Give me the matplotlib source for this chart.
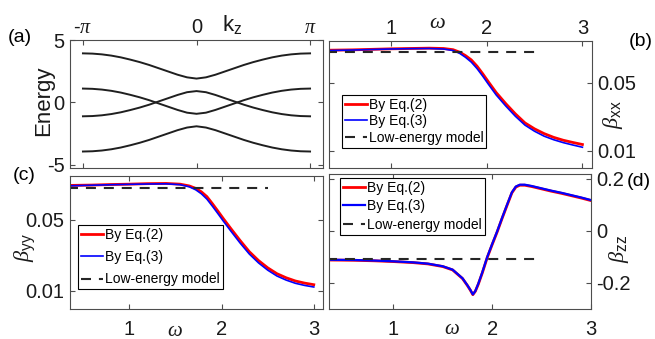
import numpy as np
import matplotlib
matplotlib.use("Agg")
import matplotlib.pyplot as plt

plt.rcParams['font.family'] = ['Liberation Sans', 'DejaVu Sans']
# Greek letters in serif italic, sub-scripts in plain sans (like the original)
plt.rcParams['mathtext.fontset'] = 'custom'
plt.rcParams['mathtext.rm'] = 'Liberation Sans'
plt.rcParams['mathtext.it'] = 'Liberation Serif:italic'
plt.rcParams['mathtext.bf'] = 'Liberation Sans:bold'
plt.rcParams['axes.unicode_minus'] = False

# ── Data ─────────────────────────────────────────────────────────────────────

# (a) band structure, k_z in units of pi
kz_over_pi = [-1.0, -0.9167, -0.8333, -0.75, -0.6667, -0.5833, -0.5, -0.4167,
              -0.3333, -0.25, -0.1667, -0.0833, 0.0, 0.0833, 0.1667, 0.25,
              0.3333, 0.4167, 0.5, 0.5833, 0.6667, 0.75, 0.8333, 0.9167, 1.0]
band_1 = [3.93, 3.91, 3.85, 3.75, 3.61, 3.43, 3.23, 3.00, 2.74, 2.48, 2.22, 2.01, 1.91,
          2.01, 2.22, 2.48, 2.74, 3.00, 3.23, 3.43, 3.61, 3.75, 3.85, 3.91, 3.93]
band_2 = [-1.11, -1.09, -1.03, -0.93, -0.79, -0.61, -0.41, -0.18, 0.08, 0.34, 0.60, 0.82, 0.91,
          0.82, 0.60, 0.34, 0.08, -0.18, -0.41, -0.61, -0.79, -0.93, -1.03, -1.09, -1.11]
band_3 = [1.11, 1.09, 1.03, 0.93, 0.79, 0.61, 0.41, 0.18, -0.08, -0.34, -0.60, -0.82, -0.91,
          -0.82, -0.60, -0.34, -0.08, 0.18, 0.41, 0.61, 0.79, 0.93, 1.03, 1.09, 1.11]
band_4 = [-3.93, -3.91, -3.85, -3.75, -3.61, -3.43, -3.23, -3.00, -2.74, -2.48, -2.22, -2.01, -1.91,
          -2.01, -2.22, -2.48, -2.74, -3.00, -3.23, -3.43, -3.61, -3.75, -3.85, -3.91, -3.93]

# (b), (c) frequency grid
omega = [0.36, 0.6, 0.8, 1.0, 1.2, 1.4, 1.55, 1.65, 1.72, 1.78, 1.84, 1.9,
         1.96, 2.02, 2.1, 2.2, 2.3, 2.4, 2.5, 2.6, 2.7, 2.8, 2.9, 3.0]

beta_xx_eq2 = [0.0692, 0.0694, 0.0697, 0.0700, 0.0702, 0.0704, 0.0702, 0.0695, 0.0680, 0.0660,
               0.0635, 0.0598, 0.0553, 0.0505, 0.0443, 0.0378, 0.0318, 0.0265, 0.0230, 0.0202,
               0.0180, 0.0163, 0.0150, 0.0138]
beta_xx_eq3 = [0.0690, 0.0693, 0.0696, 0.0699, 0.0701, 0.0702, 0.0699, 0.0690, 0.0673, 0.0650,
               0.0622, 0.0584, 0.0539, 0.0491, 0.0429, 0.0364, 0.0304, 0.0252, 0.0216, 0.0187,
               0.0166, 0.0149, 0.0135, 0.0122]

beta_yy_eq2 = [0.0693, 0.0695, 0.0698, 0.0700, 0.0703, 0.0704, 0.0700, 0.0690, 0.0676, 0.0657,
               0.0630, 0.0590, 0.0548, 0.0505, 0.0450, 0.0383, 0.0320, 0.0270, 0.0229, 0.0196,
               0.0173, 0.0155, 0.0143, 0.0134]
beta_yy_eq3 = [0.0691, 0.0694, 0.0697, 0.0699, 0.0701, 0.0702, 0.0697, 0.0685, 0.0668, 0.0646,
               0.0616, 0.0576, 0.0534, 0.0491, 0.0436, 0.0369, 0.0307, 0.0257, 0.0216, 0.0183,
               0.0160, 0.0142, 0.0130, 0.0121]

# (d)
omega_zz = [0.35, 0.6, 0.8, 1.0, 1.2, 1.35, 1.5, 1.6, 1.7, 1.75, 1.78, 1.805, 1.83, 1.86,
            1.9, 1.95, 2.0, 2.05, 2.1, 2.15, 2.2, 2.24, 2.28, 2.33, 2.4, 2.5, 2.6, 2.7,
            2.8, 2.9, 3.0]
beta_zz_eq2 = [-0.112, -0.113, -0.115, -0.118, -0.122, -0.127, -0.137, -0.150, -0.183, -0.210,
               -0.228, -0.245, -0.232, -0.205, -0.162, -0.103, -0.053, -0.005, 0.047, 0.097,
               0.146, 0.168, 0.175, 0.175, 0.170, 0.161, 0.152, 0.144, 0.135, 0.126, 0.116]
beta_zz_eq3 = [-0.111, -0.112, -0.114, -0.117, -0.121, -0.126, -0.136, -0.149, -0.182, -0.209,
               -0.227, -0.244, -0.231, -0.203, -0.160, -0.101, -0.051, -0.003, 0.049, 0.099,
               0.148, 0.170, 0.177, 0.177, 0.172, 0.163, 0.154, 0.146, 0.137, 0.128, 0.118]

# low-energy model (constant lines)
omega_low = [0.33, 2.5]
beta_xx_low = [0.068, 0.068]
beta_yy_low = [0.068, 0.068]
beta_zz_low = [-0.110, -0.110]

# ── Figure layout (pixel boxes of the reference) ─────────────────────────────
W, H = 655, 339
fig = plt.figure(figsize=(W / 100, H / 100), dpi=100)


def px_axes(left, top, right, bottom):
    return fig.add_axes([left / W, 1 - bottom / H, (right - left) / W, (bottom - top) / H])


def style(ax, top=False, right=False):
    for sp in ax.spines.values():
        sp.set_color('0.3')
        sp.set_linewidth(0.8)
    ax.tick_params(direction='in', length=3.5, width=0.8, color='0.3',
                   labelcolor='0.1', labelsize=14.5,
                   top=True, bottom=True, left=True, right=True,
                   labeltop=top, labelbottom=not top,
                   labelright=right, labelleft=not right)
    ax.tick_params(axis='x', pad=2.5 if top else 8)
    ax.tick_params(axis='y', pad=4)


ax_a = px_axes(70, 40, 323, 168)
ax_b = px_axes(329, 41, 592, 168)
ax_c = px_axes(70, 176, 323, 308.5)
ax_d = px_axes(329, 173.5, 591, 309)

dash = (0, (4.8, 3.8))
RED, BLUE = '#ff0000', '#0000ff'

# ── (a) bands ────────────────────────────────────────────────────────────────
kz = np.pi * np.array(kz_over_pi)
for band in (band_1, band_2, band_3, band_4):
    ax_a.plot(kz, band, color='0.12', lw=1.4)
ax_a.set_xlim(-3.5, 3.5)
ax_a.set_ylim(-5.25, 5)
ax_a.set_xticks([-np.pi, 0, np.pi])
ax_a.set_xticklabels([r'-$\pi$', '0', r'$\pi$'])
ax_a.set_yticks([-5, 0, 5])
ax_a.set_yticklabels(['-5', '0', '5'])
style(ax_a, top=True)


# ── (b), (c), (d) ────────────────────────────────────────────────────────────
def draw_beta(ax, w, eq2, eq3, low, lw_blue=1.2):
    l1, = ax.plot(w, eq2, color=RED, lw=2.0)
    l2, = ax.plot(w, eq3, color=BLUE, lw=lw_blue)
    l3, = ax.plot(omega_low, low, color='0.15', lw=1.5, linestyle=dash)
    return [l1, l2, l3]


labels = ['By Eq.(2)', 'By Eq.(3)', 'Low-energy model']

h_b = draw_beta(ax_b, omega, beta_xx_eq2, beta_xx_eq3, beta_xx_low)
h_c = draw_beta(ax_c, omega, beta_yy_eq2, beta_yy_eq3, beta_yy_low)
h_d = draw_beta(ax_d, omega_zz, beta_zz_eq2, beta_zz_eq3, beta_zz_low, lw_blue=1.6)

for ax in (ax_b, ax_c):
    ax.set_xlim(0.355, 3.1)
    ax.set_ylim(0, 0.0746)
    ax.set_yticks([0.01, 0.05])
    ax.set_yticklabels(['0.01', '0.05'])
ax_d.set_xlim(0.35, 3.0)
ax_d.set_ylim(-0.3, 0.22)
ax_d.set_yticks([-0.2, 0, 0.2])
ax_d.set_yticklabels(['-0.2', '0', '0.2'])
for ax in (ax_b, ax_c, ax_d):
    ax.set_xticks([1, 2, 3])
    ax.set_xticklabels(['1', '2', '3'])

style(ax_b, top=True, right=True)
style(ax_c)
style(ax_d, right=True)


def add_legend(ax, handles, anchor, spacing):
    leg = ax.legend(handles, labels, loc='upper left', bbox_to_anchor=anchor,
                    borderaxespad=0, fontsize=10, frameon=True, fancybox=False,
                    framealpha=1, edgecolor='black', handlelength=1.6,
                    handletextpad=0.15, labelspacing=spacing, borderpad=0.2)
    leg.get_frame().set_linewidth(0.8)


add_legend(ax_b, h_b, (0.049, 0.575), 0.18)
add_legend(ax_c, h_c, (0.032, 0.63), 0.6)
add_legend(ax_d, h_d, (0.042, 0.967), 0.33)

# ── Axis labels and panel tags (placed where the reference has them) ─────────
def ftext(x, y, s, **kw):
    fig.text(x / W, 1 - y / H, s, ha='center', va='center', **kw)


ftext(44, 101, 'Energy', fontsize=16, rotation=90, color='0.1')
ftext(232, 25, r'k$_{\mathrm{z}}$', fontsize=16, color='0.1')
ftext(437, 23, r'$\omega$', fontsize=16, color='0.1')
ftext(174.5, 330, r'$\omega$', fontsize=15, color='0.1')
ftext(452, 329, r'$\omega$', fontsize=15, color='0.1')
ftext(613, 115, r'$\beta_{\mathrm{xx}}$', fontsize=16, rotation=90, color='0.1')
ftext(25, 248, r'$\beta_{\mathrm{yy}}$', fontsize=16, rotation=90, color='0.1')
ftext(619, 249, r'$\beta_{\mathrm{zz}}$', fontsize=16, rotation=90, color='0.1')

ftext(19.5, 38, '(a)', fontsize=14)
ftext(640.5, 42, '(b)', fontsize=14)
ftext(24, 176, '(c)', fontsize=14)
ftext(638.5, 181.5, '(d)', fontsize=14)

fig.savefig('out.png', dpi=100)
